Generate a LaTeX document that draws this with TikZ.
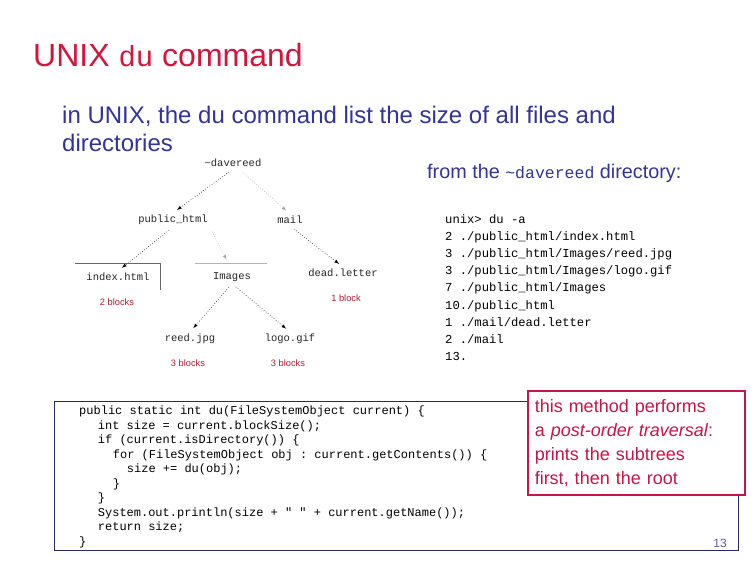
\documentclass[tikz,border=0pt]{standalone}
\usepackage{fontspec}
\setmainfont{Liberation Sans}
\setmonofont{Liberation Mono}
\definecolor{titlered}{RGB}{212,20,60}
\definecolor{bodyblue}{RGB}{51,51,153}
\definecolor{blockred}{RGB}{170,30,50}
\definecolor{notered}{RGB}{200,20,70}
\definecolor{boxblue}{RGB}{40,40,100}
\tikzset{
  dirnode/.style={font=\ttfamily\fontsize{10.5}{12}\selectfont, text=black!85, inner sep=2pt},
  blocklabel/.style={font=\fontsize{9.3}{10}\selectfont, text=blockred},
  treearrow/.style={->, dotted, semithick, shorten >=5pt, shorten <=5pt},
  faintarrow/.style={treearrow, draw=black!35},
}
\begin{document}
\begin{tikzpicture}[>=latex, x=1pt, y=-1pt]
\useasboundingbox[fill=white] (0,0) rectangle (756,576);
\node (title) at (33,66)[anchor=base west, inner sep=0pt, text=titlered, font=\fontsize{32}{36}\selectfont]{UNIX {\ttfamily\fontsize{29}{36}\selectfont du} command};
\node (intro) at (62,151)[anchor=base west, align=left, inner sep=0pt, text=bodyblue, font=\fontsize{24}{28}\selectfont]{in UNIX, the du command list the size of all files and\\directories};
\node (fromdir) at (427,178)[anchor=base west, inner sep=0pt, text=bodyblue, font=\fontsize{19.8}{22}\selectfont]{from the {\ttfamily\fontsize{16.5}{22}\selectfont\textasciitilde davereed} directory:};
\node[dirnode] (dave) at (233,163) {\textasciitilde davereed};
\node[dirnode] (pub) at (173,220) {public\_html};
\node[dirnode] (mail) at (290,220) {mail};
\node[dirnode] (index) at (118,277) {index.html};
\node[dirnode] (images) at (232,277) {Images};
\node[dirnode] (dead) at (343,273) {dead.letter};
\node[dirnode] (reed) at (190,339) {reed.jpg};
\node[dirnode] (logo) at (290,339) {logo.gif};
\node[blocklabel] (indexsize) at (117,302) {2 blocks};
\node[blocklabel] (deadsize) at (346,298) {1 block};
\node[blocklabel] (reedsize) at (188,363) {3 blocks};
\node[blocklabel] (logosize) at (288,363) {3 blocks};
\draw[treearrow] (dave.south) -- (pub.north);
\draw[faintarrow] ([xshift=6pt]dave.south) -- (mail.north);
\draw[treearrow] (pub.south) -- (index.north);
\draw[faintarrow, shorten >=12pt] (pub.south east) -- (images.north);
\draw[treearrow] (mail.south) -- (dead.north);
\draw[treearrow] (images.south) -- (reed.north);
\draw[treearrow] (images.south) -- (logo.north);
\draw[black!60] (75,263) -| (160,290);
\draw[black!30] (195,263) -- (267,263);
\node (listing) at (445,214)[anchor=north west, align=left, inner sep=0pt, font=\ttfamily\fontsize{12.2}{17.2}\selectfont]{unix> du -a\\2 ./public\_html/index.html\\3 ./public\_html/Images/reed.jpg\\3 ./public\_html/Images/logo.gif\\7 ./public\_html/Images\\10./public\_html\\1 ./mail/dead.letter\\2 ./mail\\13.};
\node (codebox) at (396,475.5)[draw=boxblue, minimum width=684pt, minimum height=149pt, inner sep=0pt]{};
\node (code) at (79,406)[anchor=north west, align=left, inner sep=0pt, font=\ttfamily\fontsize{12}{14.5}\selectfont]{public static int du(FileSystemObject current) \{\\\hspace*{18.7pt}int size = current.blockSize();\\\hspace*{18.7pt}if (current.isDirectory()) \{\\\hspace*{33.7pt}for (FileSystemObject obj : current.getContents()) \{\\\hspace*{47.7pt}size += du(obj);\\\hspace*{33.7pt}\}\\\hspace*{18.7pt}\}\\\hspace*{18.7pt}System.out.println(size + " " + current.getName());\\\hspace*{18.7pt}return size;\\\}};
\node (note) at (527,390)[anchor=north west, draw=notered, line width=1.5pt, fill=white, text=notered, text width=203pt, minimum height=104pt, inner xsep=7pt, inner ysep=3pt, align=left, font=\fontsize{18}{24}\selectfont]{this method performs\\a \textit{post-order traversal}:\\prints the subtrees\\first, then the root};
\node (pagenum) at (720,543)[text=bodyblue!80, font=\fontsize{12}{14}\selectfont]{13};
\end{tikzpicture}
\end{document}
